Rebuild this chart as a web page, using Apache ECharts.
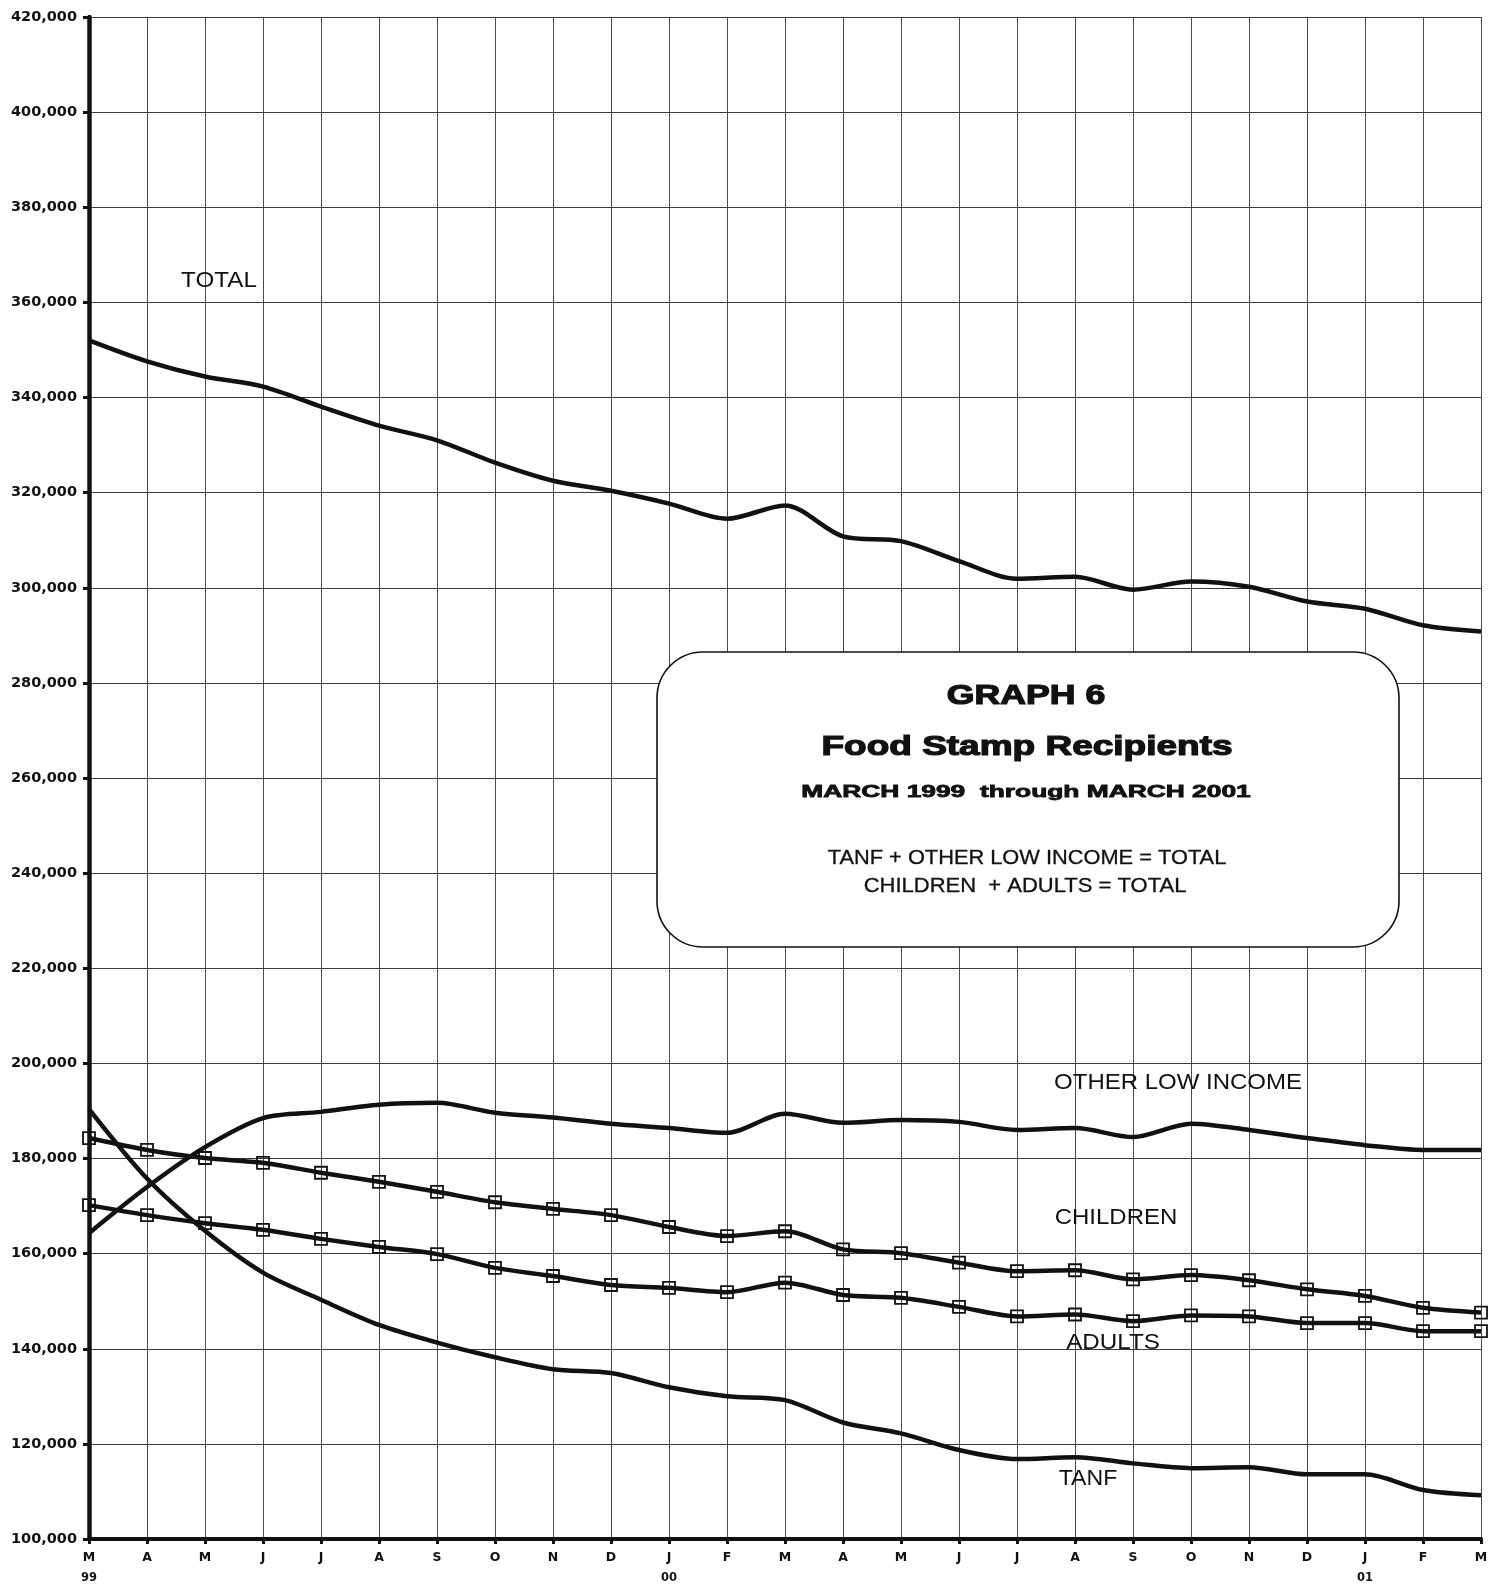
<!DOCTYPE html>
<html>
<head>
<meta charset="utf-8">
<script src="https://cdn.jsdelivr.net/npm/echarts@6/dist/echarts.min.js"></script>
<style>
  html, body { margin: 0; padding: 0; background: #fff; }
  #chart { width: 1491px; height: 1588px; }
</style>
</head>
<body>
<div id="chart"></div>
<script>
// ---- data ----
const months = ['M','A','M','J','J','A','S','O','N','D','J','F','M','A','M','J','J','A','S','O','N','D','J','F','M'];
const years  = ['99','','','','','','','','','','00','','','','','','','','','','','','01','',''];

const total    = [352000, 347600, 344400, 342300, 338100, 334100, 331000, 326300, 322500, 320400, 317700, 314500, 317300, 310800, 309800, 305600, 301900, 302300, 299600, 301300, 300200, 297100, 295600, 292100, 290800];
const other    = [164300, 174000, 182400, 188500, 189800, 191300, 191700, 189600, 188600, 187300, 186400, 185400, 189400, 187500, 188100, 187700, 186000, 186400, 184500, 187300, 186000, 184300, 182800, 181800, 181800];
const children = [184300, 181800, 180100, 179100, 177000, 175100, 173000, 170800, 169400, 168100, 165600, 163700, 164700, 160900, 160100, 158100, 156300, 156500, 154600, 155500, 154400, 152500, 151100, 148600, 147600];
const adults   = [170200, 168100, 166400, 165000, 163100, 161400, 159900, 157000, 155300, 153400, 152800, 151900, 153900, 151300, 150700, 148800, 146800, 147200, 145800, 147000, 146800, 145400, 145400, 143700, 143700];
const tanf     = [190400, 175800, 164800, 156000, 150300, 145000, 141300, 138200, 135700, 134900, 131900, 130000, 129200, 124500, 122200, 118700, 116800, 117200, 115900, 114900, 115100, 113600, 113600, 110300, 109200];

const yMin = 100000, yMax = 420000, yStep = 20000;

const seriesLabels = ['TOTAL', 'OTHER LOW INCOME', 'CHILDREN', 'ADULTS', 'TANF'];
const boxTitle = 'GRAPH 6';
const boxSubtitle = 'Food Stamp Recipients';
const boxPeriod = 'MARCH 1999  through MARCH 2001';
const boxNote1 = 'TANF + OTHER LOW INCOME = TOTAL';
const boxNote2 = 'CHILDREN  + ADULTS = TOTAL';

// ---- chart ----
const chart = echarts.init(document.getElementById('chart'));
const INK = '#111';
const LW = 4.5;

function plainLine(name, data) {
  return {
    name, type: 'line', data, smooth: 0.3, showSymbol: false, symbol: 'none',
    lineStyle: { color: INK, width: LW }, itemStyle: { color: INK }, z: 3
  };
}
function markedLine(name, data) {
  return {
    name, type: 'line', data, smooth: 0.3, symbol: 'rect', symbolSize: 12, showSymbol: true,
    lineStyle: { color: INK, width: LW },
    itemStyle: { color: 'rgba(0,0,0,0)', borderColor: INK, borderWidth: 1.8 }, z: 3
  };
}

const labelFont = '22px "Liberation Sans", Arial, sans-serif';
function lbl(text, x, y, sx) {
  return { type: 'text', x, y, scaleX: sx, z: 20,
    style: { text, font: labelFont, fill: INK, align: 'center', verticalAlign: 'middle' } };
}
function boxText(text, x, y, font, sx, heavy) {
  return { type: 'text', x, y, scaleX: sx, z: 21,
    style: { text, font, fill: INK, align: 'center', verticalAlign: 'middle',
             stroke: heavy ? INK : null, lineWidth: heavy || 0 } };
}

const option = {
  backgroundColor: '#fff',
  animation: false,
  grid: { left: 89, right: 10, top: 17, bottom: 49, containLabel: false },
  xAxis: {
    type: 'category', data: months, boundaryGap: false,
    axisLine: { show: true, lineStyle: { color: INK, width: 4 } },
    axisTick: { show: true, inside: false, length: 5, alignWithLabel: true, interval: 0, lineStyle: { color: INK, width: 3 } },
    axisLabel: {
      interval: 0, margin: 9,
      formatter: (v, i) => '{m|' + v + '}' + (years[i] ? '\n{y|' + years[i] + '}' : ''),
      rich: {
        m: { fontFamily: '"DejaVu Sans", sans-serif', fontWeight: 'bold', fontSize: 12.5, color: INK, lineHeight: 20 },
        y: { fontFamily: '"DejaVu Sans", sans-serif', fontWeight: 'bold', fontSize: 11.5, color: INK, lineHeight: 20 }
      }
    },
    splitLine: { show: true, interval: 0, lineStyle: { color: '#4a4a4a', width: 1 } }
  },
  yAxis: {
    type: 'value', min: yMin, max: yMax, interval: yStep,
    axisLine: { show: true, lineStyle: { color: INK, width: 4.5 } },
    axisTick: { show: true, length: 6, lineStyle: { color: INK, width: 3 } },
    axisLabel: {
      margin: 12, color: INK, fontFamily: '"DejaVu Sans", sans-serif', fontWeight: 'bold', fontSize: 14.5,
      formatter: v => v.toLocaleString('en-US')
    },
    splitLine: { show: true, lineStyle: { color: '#3a3a3a', width: 1 } }
  },
  series: [
    plainLine('TOTAL', total),
    plainLine('OTHER LOW INCOME', other),
    markedLine('CHILDREN', children),
    markedLine('ADULTS', adults),
    plainLine('TANF', tanf)
  ],
  graphic: [
    lbl(seriesLabels[0], 219, 281, 1.1),
    lbl(seriesLabels[1], 1178, 1083, 1.09),
    lbl(seriesLabels[2], 1116, 1218, 1.09),
    lbl(seriesLabels[3], 1113, 1343, 1.1),
    lbl(seriesLabels[4], 1088, 1479, 1.05),
    { type: 'rect', z: 15,
      shape: { x: 657, y: 652, width: 742, height: 295, r: 46 },
      style: { fill: '#fff', stroke: INK, lineWidth: 1.6 } },
    boxText(boxTitle, 1026, 697, 'bold 27px "Liberation Sans", Arial, sans-serif', 1.32, 1.2),
    boxText(boxSubtitle, 1027, 748, 'bold 27px "Liberation Sans", Arial, sans-serif', 1.37, 1.2),
    boxText(boxPeriod, 1026, 792, 'bold 17px "Liberation Sans", Arial, sans-serif', 1.55, 0.8),
    boxText(boxNote1, 1027, 858, '20px "Liberation Sans", Arial, sans-serif', 1.09, 0.3),
    boxText(boxNote2, 1025, 886, '20px "Liberation Sans", Arial, sans-serif', 1.1, 0.3)
  ]
};
chart.setOption(option);
</script>
</body>
</html>
